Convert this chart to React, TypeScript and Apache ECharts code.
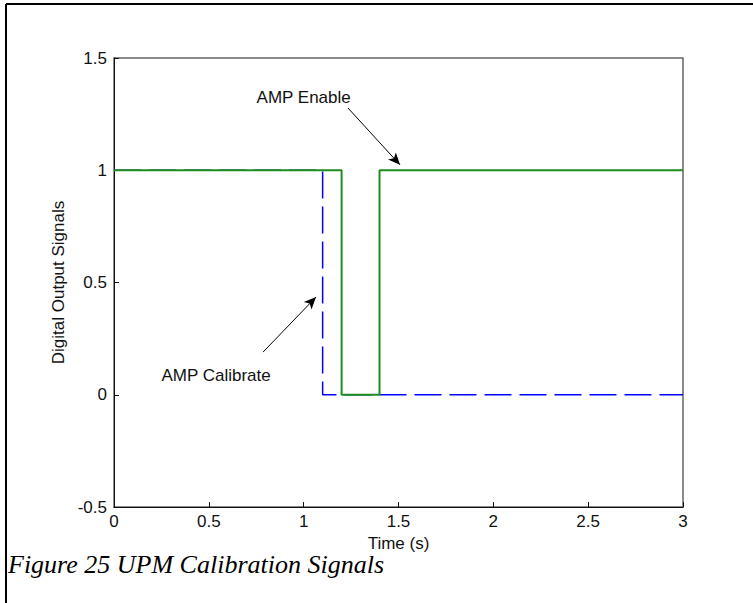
import React, { useEffect, useRef } from "react";
import * as echarts from "echarts";

const ampEnable: [number, number][] = [
  [0, 1], [1.2, 1], [1.2, 0], [1.4, 0], [1.4, 1], [3, 1],
];
const ampCalibrate: [number, number][] = [
  [0, 1], [1.1, 1], [1.1, 0], [3, 0],
];
const xTicks = [0, 0.5, 1, 1.5, 2, 2.5, 3];
const yTicks = [-0.5, 0, 0.5, 1, 1.5];
// annotation: label position, arrow start, arrow tip (data units)
const enableNote = { text: "AMP Enable", label: [1.0, 1.322], from: [1.234, 1.277], to: [1.508, 1.024] };
const calibNote = { text: "AMP Calibrate", label: [0.538, 0.084], from: [0.786, 0.19], to: [1.065, 0.435] };

export default function App() {
  const ref = useRef<HTMLDivElement>(null);
  useEffect(() => {
    const chart = echarts.init(ref.current!, null, { renderer: "svg" });
    const font = "Liberation Sans, Arial, sans-serif";
    const fs = 17;
    const arrowLine = (n: any) => ({
      silent: true,
      symbol: ["none", "arrow"],
      symbolSize: [8, 12],
      lineStyle: { color: "#000", width: 1, type: "solid" },
      label: { show: false },
      data: [[{ coord: n.from }, { coord: n.to }]],
    });
    const note = (n: any) => ({
      silent: true,
      symbol: "circle",
      symbolSize: 0,
      label: { show: true, position: "inside", formatter: n.text, color: "#111", fontSize: fs, fontFamily: font },
      data: [{ coord: n.label }],
    });
    chart.setOption({
      animation: false,
      backgroundColor: "#fff",
      grid: { left: 114, right: 70, top: 58, bottom: 96, show: true, borderColor: "#666", borderWidth: 1.5 },
      xAxis: {
        type: "value",
        min: 0,
        max: 3,
        interval: 0.5,
        name: "Time (s)",
        nameLocation: "middle",
        nameGap: 28,
        nameTextStyle: { color: "#111", fontSize: fs, fontFamily: font },
        axisLine: { show: true, onZero: false, lineStyle: { color: "#111", width: 1 } },
        axisTick: { show: true, inside: true, length: 5, lineStyle: { color: "#111" } },
        axisLabel: { color: "#111", fontSize: fs, fontFamily: font, margin: 6, formatter: (v: number) => (xTicks.includes(v) ? String(v) : "") },
        splitLine: { show: false },
      },
      yAxis: {
        type: "value",
        min: -0.5,
        max: 1.5,
        interval: 0.5,
        name: "Digital Output Signals",
        nameLocation: "middle",
        nameGap: 47,
        nameTextStyle: { color: "#111", fontSize: fs, fontFamily: font },
        axisLine: { show: true, onZero: false, lineStyle: { color: "#111", width: 1 } },
        axisTick: { show: true, inside: true, length: 5, lineStyle: { color: "#111" } },
        axisLabel: { color: "#111", fontSize: fs, fontFamily: font, margin: 7, formatter: (v: number) => (yTicks.includes(v) ? String(v) : "") },
        splitLine: { show: false },
      },
      graphic: [
        { type: "line", shape: { x1: 6, y1: 4, x2: 753, y2: 4 }, style: { stroke: "#000", lineWidth: 2 } },
        { type: "line", shape: { x1: 6, y1: 4, x2: 6, y2: 603 }, style: { stroke: "#000", lineWidth: 2 } },
        {
          type: "text",
          left: 8,
          top: 551,
          style: { text: "Figure 25 UPM Calibration Signals", font: "italic 26px 'Liberation Serif', 'Times New Roman', serif", fill: "#000" },
        },
      ],
      series: [
        {
          type: "line",
          name: "AMP Calibrate",
          data: ampCalibrate,
          symbol: "none",
          lineStyle: { color: "#0000ff", width: 1.5, type: [27, 8] },
          z: 2,
          markLine: arrowLine(calibNote),
          markPoint: note(calibNote),
        },
        {
          type: "line",
          name: "AMP Enable",
          data: ampEnable,
          symbol: "none",
          lineStyle: { color: "#1e8c1e", width: 2 },
          z: 3,
          markLine: arrowLine(enableNote),
          markPoint: note(enableNote),
        },
      ],
    });
    return () => chart.dispose();
  }, []);
  return <div ref={ref} style={{ width: 753, height: 603, position: "absolute", left: 0, top: 0 }} />;
}
